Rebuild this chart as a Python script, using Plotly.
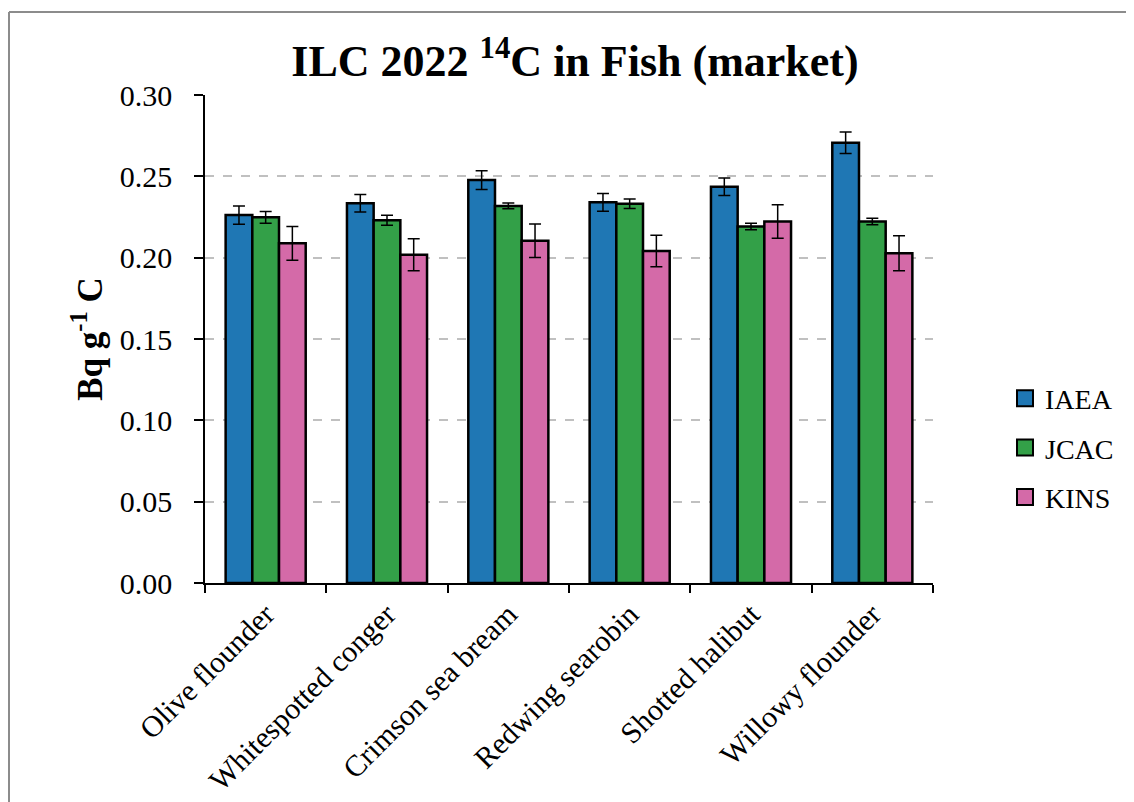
import plotly.graph_objects as go

categories = ["Olive flounder", "Whitespotted conger", "Crimson sea bream",
              "Redwing searobin", "Shotted halibut", "Willowy flounder"]
series_names = ["IAEA", "JCAC", "KINS"]
iaea = [0.2262, 0.2334, 0.2477, 0.2340, 0.2436, 0.2707]
iaea_err = [0.0056, 0.0054, 0.0058, 0.0055, 0.0054, 0.0066]
jcac = [0.2248, 0.2230, 0.2318, 0.2332, 0.2191, 0.2223]
jcac_err = [0.0036, 0.0031, 0.0018, 0.0029, 0.0020, 0.0020]
kins = [0.2088, 0.2018, 0.2104, 0.2041, 0.2223, 0.2027]
kins_err = [0.0104, 0.0098, 0.0103, 0.0097, 0.0103, 0.0107]
y_ticks = [0.00, 0.05, 0.10, 0.15, 0.20, 0.25, 0.30]

colors = ["#1f77b4", "#33a048", "#d46aa8"]
FONT = "Liberation Serif, Times New Roman, serif"

fig = go.Figure()
for name, vals, errs, col in zip(series_names, [iaea, jcac, kins],
                                 [iaea_err, jcac_err, kins_err], colors):
    fig.add_trace(go.Bar(
        x=categories, y=vals, name=name, showlegend=False,
        marker=dict(color=col, line=dict(color="black", width=2.5)),
        error_y=dict(type="data", array=errs, visible=True,
                     color="black", thickness=1.5, width=6),
    ))
for name, col in zip(series_names, colors):
    fig.add_trace(go.Scatter(
        x=[None], y=[None], mode="markers", name=name, legendgroup=name,
        marker=dict(symbol="square", size=20, color=col,
                    line=dict(color="black", width=2)),
    ))

# page has an 8px body margin; figure coordinates = page coordinates - 8
W, H = 1130, 800
L, T = 197, 87
R = W - 925
B = H - 575
pw, ph = W - L - R, H - T - B

fig.update_layout(
    width=W, height=H,
    margin=dict(l=L, r=R, t=T, b=B, autoexpand=False),
    paper_bgcolor="white", plot_bgcolor="white",
    font=dict(family=FONT, size=30, color="black"),
    barmode="group", bargap=0.34, bargroupgap=0,
    title=dict(text="<b>ILC 2022 <sup>14</sup>C in Fish (market)</b>",
               x=567 / W, xanchor="center", y=1 - 53 / H, yanchor="middle",
               font=dict(family=FONT, size=44, color="black")),
    legend=dict(x=(997 - L) / pw, xanchor="left", y=(575 - 440) / ph,
                yanchor="middle", font=dict(family=FONT, size=28),
                tracegroupgap=10, bgcolor="rgba(0,0,0,0)"),
    xaxis=dict(
        type="category", tickson="boundaries", ticks="outside", ticklen=8,
        tickwidth=1.5, tickcolor="black", showline=True, linecolor="black",
        linewidth=1.5, tickangle=-45, showgrid=False, automargin=False,
        tickfont=dict(family=FONT, size=30),
    ),
    yaxis=dict(
        range=[0, 0.30], tickvals=y_ticks, tickformat=".2f",
        ticks="outside", ticklen=9, tickwidth=1.5, tickcolor="black",
        showline=True, linecolor="black", linewidth=1.5, automargin=False,
        showgrid=True, gridcolor="#c0c0c0", gridwidth=1.5, griddash="dash",
        zeroline=False, ticklabelstandoff=16,
        tickfont=dict(family=FONT, size=30),
        title=dict(text="<b>Bq g<sup>-1</sup> C</b>", standoff=7,
                   font=dict(family=FONT, size=35)),
    ),
    shapes=[dict(type="line", xref="paper", yref="paper",
                 x0=(1 - L) / pw, x1=(1300 - L) / pw,
                 y0=(575 - 4) / ph, y1=(575 - 4) / ph,
                 line=dict(color="#8c8c8c", width=2)),
            dict(type="line", xref="paper", yref="paper",
                 x0=(1 - L) / pw, x1=(1 - L) / pw,
                 y0=(575 - 4) / ph, y1=(575 - 900) / ph,
                 line=dict(color="#8c8c8c", width=2))],
)

fig.write_html("out.html")
